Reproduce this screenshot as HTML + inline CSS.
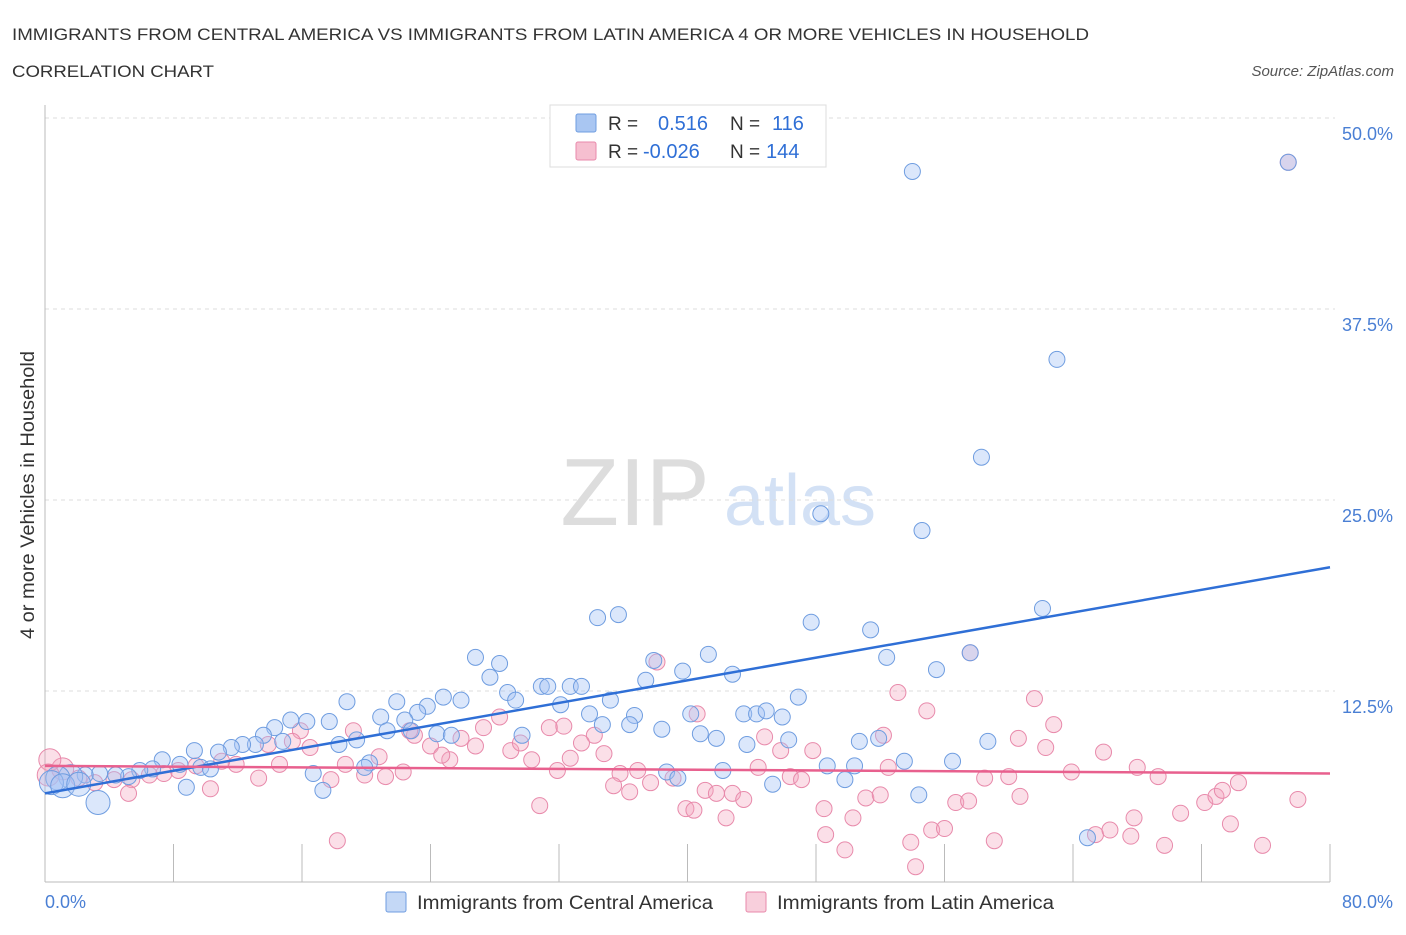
<!DOCTYPE html>
<html><head><meta charset="utf-8">
<style>
body{margin:0;background:#fff;font-family:"Liberation Sans",sans-serif;}
svg text{font-family:"Liberation Sans",sans-serif;}
</style></head>
<body>
<svg id="c" width="1406" height="930">
<text x="12" y="40" font-size="17" fill="#333" textLength="1077" lengthAdjust="spacingAndGlyphs">IMMIGRANTS FROM CENTRAL AMERICA VS IMMIGRANTS FROM LATIN AMERICA 4 OR MORE VEHICLES IN HOUSEHOLD</text>
<text x="12" y="77" font-size="17" fill="#333" textLength="202" lengthAdjust="spacingAndGlyphs">CORRELATION CHART</text>
<text x="1394" y="76" font-size="15" fill="#555" font-style="italic" text-anchor="end">Source: ZipAtlas.com</text>
<text x="635" y="525" font-size="96" fill="#ddd" font-family="Liberation Serif" text-anchor="middle">ZIP</text>
<text x="800" y="525" font-size="72" fill="#d3e1f5" text-anchor="middle">atlas</text>
<text transform="translate(34,495) rotate(-90)" font-size="19" fill="#333" text-anchor="middle" textLength="288" lengthAdjust="spacingAndGlyphs">4 or more Vehicles in Household</text>
<g id="grid"></g><g id="pts"></g><g id="lines"></g>
<g>
<rect x="550" y="105" width="276" height="62" fill="#fff" stroke="#ddd"/>
<rect x="576" y="114" width="20" height="18" fill="#a9c6f2" stroke="#6f9de0" rx="2"/>
<text x="608" y="130" font-size="19" fill="#333">R =</text><text x="658" y="130" font-size="20" fill="#2f6fd6">0.516</text>
<text x="730" y="130" font-size="19" fill="#333">N =</text><text x="772" y="130" font-size="20" fill="#2f6fd6">116</text>
<rect x="576" y="142" width="20" height="18" fill="#f6bfd0" stroke="#e88aab" rx="2"/>
<text x="608" y="158" font-size="19" fill="#333">R =</text><text x="643" y="158" font-size="20" fill="#2f6fd6">-0.026</text>
<text x="730" y="158" font-size="19" fill="#333">N =</text><text x="766" y="158" font-size="20" fill="#2f6fd6">144</text>
</g>
<g>
<rect x="386" y="892" width="20" height="20" fill="#c4d8f6" stroke="#6f9de0" rx="2"/>
<text x="417" y="909" font-size="19" fill="#333" textLength="296" lengthAdjust="spacingAndGlyphs">Immigrants from Central America</text>
<rect x="746" y="892" width="20" height="20" fill="#f8cfdc" stroke="#e88aab" rx="2"/>
<text x="777" y="909" font-size="19" fill="#333" textLength="277" lengthAdjust="spacingAndGlyphs">Immigrants from Latin America</text>
</g>
</svg>
<script>
const xTicks=[0,8,16,24,32,40,48,56,64,72,80];
const yTicks=[12.5,25,37.5,50];
const yTickLabels=["12.5%","25.0%","37.5%","50.0%"];
const blueX=[54.0,63.0,58.3,48.3,54.6,62.1,34.4,35.7,47.7,51.4,26.8,28.3,52.4,41.3,37.9,39.7,55.5,42.8,57.6,27.7,37.4,30.9,28.8,31.3,32.7,33.4,35.2,32.1,29.3,25.9,24.8,23.8,23.2,21.9,18.8,20.9,22.4,17.7,16.3,15.3,14.3,33.9,34.7,36.7,38.4,36.4,40.2,43.5,44.3,44.9,45.9,46.9,40.8,41.8,43.7,46.3,50.7,51.9,58.7,29.7,24.4,25.3,22.8,21.3,19.4,18.3,14.8,13.6,13.1,12.3,11.6,10.8,9.3,7.3,8.4,9.7,10.3,6.7,5.9,5.2,4.4,3.4,2.5,1.6,0.8,0.4,1.1,2.1,3.3,8.8,17.3,16.7,20.2,19.9,38.7,39.4,42.2,45.3,48.7,49.8,50.4,53.5,54.4,56.5,64.9,77.4];
const blueY=[46.5,34.2,27.8,24.1,23.0,17.9,17.3,17.5,17.0,16.5,14.7,14.3,14.7,14.9,14.5,13.8,13.9,13.6,15.0,13.4,13.2,12.8,12.4,12.8,12.8,12.8,11.9,11.6,11.9,11.9,12.1,11.5,11.1,11.8,11.8,10.8,10.6,10.5,10.5,10.6,10.1,11.0,10.3,10.9,10.0,10.3,11.0,11.0,11.0,11.2,10.8,12.1,9.7,9.4,9.0,9.3,9.2,9.4,9.2,9.6,9.7,9.6,9.9,9.9,9.3,9.0,9.2,9.6,9.0,9.0,8.8,8.5,8.6,8.0,7.7,7.5,7.4,7.4,7.3,6.9,7.0,7.1,7.0,6.9,6.8,6.5,6.3,6.4,5.2,6.2,6.0,7.1,7.8,7.5,7.2,6.8,7.3,6.4,7.6,6.7,7.6,7.9,5.7,7.9,2.9,47.1];
const pinkX=[77.4,57.6,38.1,53.1,61.6,54.9,62.8,40.6,28.3,27.3,31.4,32.3,34.2,33.4,25.9,26.8,24.0,23.0,19.2,15.9,15.4,16.5,13.9,29.0,29.6,34.8,32.7,25.2,20.8,18.7,14.6,11.9,11.0,9.4,8.3,7.4,6.5,5.4,4.3,3.1,2.1,1.1,0.3,0.2,5.2,10.3,13.3,17.8,21.2,22.3,30.3,31.9,35.8,36.9,35.4,37.7,36.4,39.1,39.9,40.4,41.1,41.8,42.4,42.8,43.5,44.4,44.8,45.8,46.4,47.1,47.8,48.5,48.6,49.8,50.3,51.1,52.0,52.2,52.5,53.9,54.2,55.2,56.0,56.7,57.5,58.5,59.1,60.0,60.6,60.7,62.3,63.9,65.4,65.9,66.3,67.6,67.8,68.0,69.3,69.7,70.7,72.2,72.9,73.3,73.8,74.3,75.8,78.0,18.2,30.8,22.7,24.7,19.9];
const pinkY=[47.1,15.0,14.4,12.4,12.0,11.2,10.3,11.0,10.8,10.1,10.1,10.2,9.6,9.1,9.4,8.9,8.9,9.6,9.9,9.9,9.2,8.8,9.0,8.6,9.1,8.4,8.1,8.0,8.2,7.7,7.7,7.7,7.9,7.6,7.3,7.1,7.0,6.7,6.7,6.5,6.8,7.4,8.0,7.0,5.8,6.1,6.8,6.7,6.9,7.2,8.0,7.3,7.1,7.3,6.3,6.5,5.9,6.8,4.8,4.7,6.0,5.8,4.2,5.8,5.4,7.5,9.5,8.6,6.9,6.7,8.6,4.8,3.1,2.1,4.2,5.5,5.7,9.6,7.5,2.6,1.0,3.4,3.5,5.2,5.3,6.8,2.7,6.9,9.4,5.6,8.8,7.2,3.1,8.5,3.4,3.0,4.2,7.5,6.9,2.4,4.5,5.2,5.6,6.0,3.8,6.5,2.4,5.4,2.7,5.0,9.9,8.3,7.0];
const blueTrend=[5.8,20.6];
const pinkTrend=[7.6,7.1];
const NS="http://www.w3.org/2000/svg";
const X0=45,X1=1330,Y0=882,YTOP=118;
const sx=v=>X0+(v/80)*(X1-X0);
const sy=v=>Y0-(v/50)*(Y0-YTOP);
function mk(tag,a,parent){const e=document.createElementNS(NS,tag);for(const k in a)e.setAttribute(k,a[k]);parent.appendChild(e);return e;}
const grid=document.getElementById('grid');
yTicks.forEach((t,i)=>{
 const l=mk('line',{x1:X0,x2:X1+5,y1:sy(t),y2:sy(t),stroke:'#ddd','stroke-dasharray':'4,4'},grid);
 
 
 const tx=mk('text',{x:1393,y:sy(t)+22,'font-size':18,fill:'#4a7fd4','text-anchor':'end'},grid);
 tx.textContent=yTickLabels[i];
 
 
});
const ax=mk('line',{x1:X0,x2:X0,y1:105,y2:Y0,stroke:'#bbb'},grid);


const bx=mk('line',{x1:X0,x2:X1,y1:Y0,y2:Y0,stroke:'#bbb'},grid);


xTicks.forEach(t=>{
 const l=mk('line',{x1:sx(t),x2:sx(t),y1:Y0-38,y2:Y0,stroke:'#bbb'},grid);
 
 
});
const xl=mk('text',{x:45,y:908,'font-size':18,fill:'#4a7fd4'},grid);xl.textContent='0.0%';


const xr=mk('text',{x:1393,y:908,'font-size':18,fill:'#4a7fd4','text-anchor':'end'},grid);xr.textContent='80.0%';


const pts=document.getElementById('pts');
pinkX.forEach((x,i)=>{
 const c=mk('circle',{cx:sx(x),cy:sy(pinkY[i]),r:i>40&&i<44?11:8,fill:'rgba(244,164,190,0.35)',stroke:'#e88aab','stroke-width':1},pts);
 
 
});
blueX.forEach((x,i)=>{
 const c=mk('circle',{cx:sx(x),cy:sy(blueY[i]),r:(i>=83&&i<=88)?12:8,fill:'rgba(164,194,244,0.4)',stroke:'#6f9de0','stroke-width':1},pts);
 
 
});
const lines=document.getElementById('lines');
const bl=mk('line',{x1:sx(0),y1:sy(blueTrend[0]),x2:sx(80),y2:sy(blueTrend[1]),stroke:'#2f6fd6','stroke-width':2.5},lines);


const pl=mk('line',{x1:sx(0),y1:sy(pinkTrend[0]),x2:sx(80),y2:sy(pinkTrend[1]),stroke:'#e8608e','stroke-width':2.5},lines);


</script>
</body></html>
